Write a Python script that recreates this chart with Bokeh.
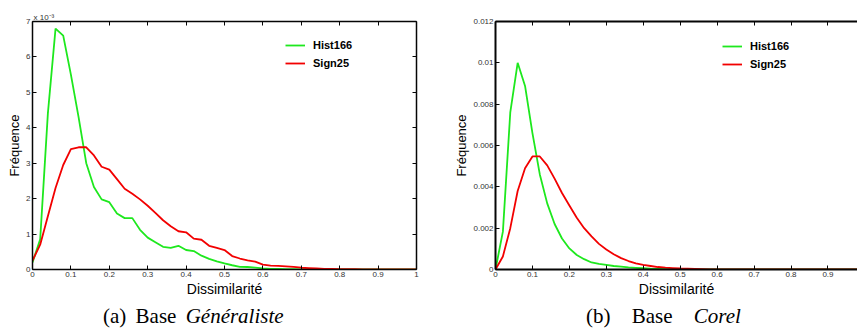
from bokeh.plotting import figure
from bokeh.models import (Range1d, LinearAxis, FixedTicker, NumeralTickFormatter,
                          CustomJSTickFormatter, Legend, LegendItem, Div)
from bokeh.layouts import row, column
from bokeh.embed import file_html
from bokeh.resources import INLINE

# ---------------- data ----------------
dissimilarite = [0.0, 0.02, 0.04, 0.06, 0.08, 0.1, 0.12, 0.14, 0.16, 0.18,
                 0.2, 0.22, 0.24, 0.26, 0.28, 0.3, 0.32, 0.34, 0.36, 0.38,
                 0.4, 0.42, 0.44, 0.46, 0.48, 0.5, 0.52, 0.54, 0.56, 0.58,
                 0.6, 0.62, 0.64, 0.66, 0.68, 0.7, 0.72, 0.74, 0.76, 0.78,
                 0.8, 0.82, 0.84, 0.86, 0.88, 0.9, 0.92, 0.94, 0.96, 0.98, 1.0]

# (a) Base Généraliste, values in units of 1e-3
gen_hist166 = [0.2, 0.85, 4.4, 6.8, 6.6, 5.5, 4.3, 3.0, 2.33, 1.98,
               1.9, 1.58, 1.45, 1.45, 1.12, 0.9, 0.77, 0.64, 0.61, 0.67,
               0.55, 0.52, 0.39, 0.3, 0.23, 0.17, 0.12, 0.075, 0.07, 0.05,
               0.03, 0.02, 0.02, 0.01, 0.01, 0.005, 0, 0, 0, 0,
               0, 0, 0, 0, 0, 0, 0, 0, 0, 0, 0]
gen_sign25 = [0.25, 0.7, 1.5, 2.3, 2.95, 3.4, 3.45, 3.45, 3.22, 2.9,
              2.82, 2.55, 2.28, 2.14, 1.98, 1.8, 1.6, 1.39, 1.22, 1.08,
              1.05, 0.87, 0.84, 0.67, 0.61, 0.55, 0.38, 0.31, 0.26, 0.22,
              0.14, 0.11, 0.1, 0.09, 0.075, 0.05, 0.04, 0.03, 0.02, 0.02,
              0.01, 0.01, 0.01, 0.005, 0, 0, 0, 0, 0, 0, 0]

# (b) Base Corel
cor_hist166 = [0, 0.00183, 0.0076, 0.0100, 0.00888, 0.0066, 0.0046, 0.0032, 0.0022, 0.0015,
               0.00102, 0.0007, 0.0005, 0.00034, 0.00027, 0.00022, 0.00017, 0.00014, 0.0001, 0.00008,
               0.00006, 0.00004, 0.00003, 0.00002, 0.00001, 0, 0, 0, 0, 0,
               0, 0, 0, 0, 0, 0, 0, 0, 0, 0,
               0, 0, 0, 0, 0, 0, 0, 0, 0, 0, 0]
cor_sign25 = [0, 0.00063, 0.002, 0.0038, 0.0049, 0.00547, 0.00547, 0.00504, 0.0044, 0.0037,
              0.0031, 0.0025, 0.002, 0.0016, 0.00124, 0.00097, 0.00074, 0.00055, 0.00041, 0.0003,
              0.00022, 0.00017, 0.00012, 0.00009, 0.00007, 0.00005, 0.00004, 0.00003, 0.00002, 0.00001,
              0.00001, 0, 0, 0, 0, 0, 0, 0, 0, 0,
              0, 0, 0, 0, 0, 0, 0, 0, 0, 0, 0]

x_ticks = [0, 0.1, 0.2, 0.3, 0.4, 0.5, 0.6, 0.7, 0.8, 0.9, 1]
gen_y_ticks = [0, 1, 2, 3, 4, 5, 6, 7]
cor_y_ticks = [0, 0.002, 0.004, 0.006, 0.008, 0.01, 0.012]

series_labels = ["Hist166", "Sign25"]
captions = ['(a) Base <i>Généraliste</i>', '(b) Base <i>Corel</i>']
x_label = "Dissimilarité"
y_label = "Fréquence"
gen_scale_label = "x 10\u207b\u00b3"

GREEN = "#1ee81e"
RED = "#f20000"
INK = "#050505"   # near-black stroke colour
FONT = "Liberation Sans"


def style_axis(ax, ticks, fmt, lw, axis_label=None, label_size=None):
    ax.ticker = FixedTicker(ticks=ticks)
    ax.major_tick_in = 4
    ax.major_tick_out = 0
    ax.minor_tick_in = 0
    ax.minor_tick_out = 0
    ax.axis_line_color = INK
    ax.axis_line_width = lw
    ax.major_tick_line_color = INK
    ax.major_tick_line_width = 1
    ax.major_label_text_font = FONT
    ax.major_label_text_color = "#333333"
    if fmt is not None:
        ax.formatter = NumeralTickFormatter(format=fmt)
        ax.major_label_text_font_size = "8px"
        ax.major_label_standoff = 2
    else:
        ax.formatter = CustomJSTickFormatter(code="return ''")
        ax.major_label_text_font_size = "2px"
        ax.major_label_standoff = 0
    if axis_label:
        ax.axis_label = axis_label
        ax.axis_label_text_font = FONT
        ax.axis_label_text_font_style = "normal"
        ax.axis_label_text_color = "#000000"
        ax.axis_label_text_font_size = label_size
        ax.axis_label_standoff = 1
    return ax


def make_fig(w, h, bl, br, bt, bb, xr, yr, ytick, yfmt, hist, sign,
             legend_loc, right_side, lw):
    p = figure(width=w, height=h,
               min_border_left=bl, min_border_right=br, min_border_top=bt, min_border_bottom=bb,
               x_range=Range1d(*xr), y_range=Range1d(*yr),
               output_backend="svg", toolbar_location=None)
    p.outline_line_color = None
    p.xgrid.visible = False
    p.ygrid.visible = False
    style_axis(p.xaxis[0], x_ticks, "0.[0]", lw, x_label, "14px")
    style_axis(p.yaxis[0], ytick, yfmt, lw, y_label, "13px")
    p.add_layout(style_axis(LinearAxis(), x_ticks, None, lw), "above")
    if right_side:
        p.add_layout(style_axis(LinearAxis(), ytick, None, lw), "right")

    g = p.line(dissimilarite, hist, line_color=GREEN, line_width=1.8)
    r = p.line(dissimilarite, sign, line_color=RED, line_width=1.8)

    leg = Legend(items=[LegendItem(label=series_labels[0], renderers=[g]),
                        LegendItem(label=series_labels[1], renderers=[r])],
                 location=legend_loc, padding=0, margin=0, spacing=4,
                 label_standoff=8, glyph_width=20, glyph_height=14, label_height=14,
                 border_line_color=None, background_fill_alpha=0)
    leg.label_text_font = FONT
    leg.label_text_font_style = "bold"
    leg.label_text_font_size = "11px"
    leg.label_text_color = "#000000"
    p.add_layout(leg)
    return p


pA = make_fig(445, 299, 32, 29, 21, 30, (0, 1), (0, 7), gen_y_ticks, "0",
              gen_hist166, gen_sign25, (253, 199), True, 1.5)
pA.title.text = gen_scale_label
pA.title.align = "left"
pA.title.offset = 1
pA.title.standoff = 0
pA.title.text_font = FONT
pA.title.text_font_style = "normal"
pA.title.text_font_size = "8px"
pA.title.text_color = "#333333"

pB = make_fig(412, 299, 50, 0, 14, 30, (0, 0.98), (0, 0.012), cor_y_ticks, "0.[000]",
              cor_hist166, cor_sign25, (227, 198), False, 2)

cap_style = {"font-family": "Liberation Serif", "font-size": "21px", "line-height": "35px",
             "color": "black", "white-space": "nowrap"}
dA = Div(text=captions[0], width=445, height=33, margin=0,
         styles=dict(cap_style, **{"padding-left": "103px", "word-spacing": "4px"}))
dB = Div(text=captions[1], width=412, height=33, margin=0,
         styles=dict(cap_style, **{"padding-left": "141px", "word-spacing": "16px"}))

layout = column(row(pA, pB, spacing=0), row(dA, dB, spacing=0), spacing=0)

open("out.html", "w").write(file_html(layout, INLINE))
